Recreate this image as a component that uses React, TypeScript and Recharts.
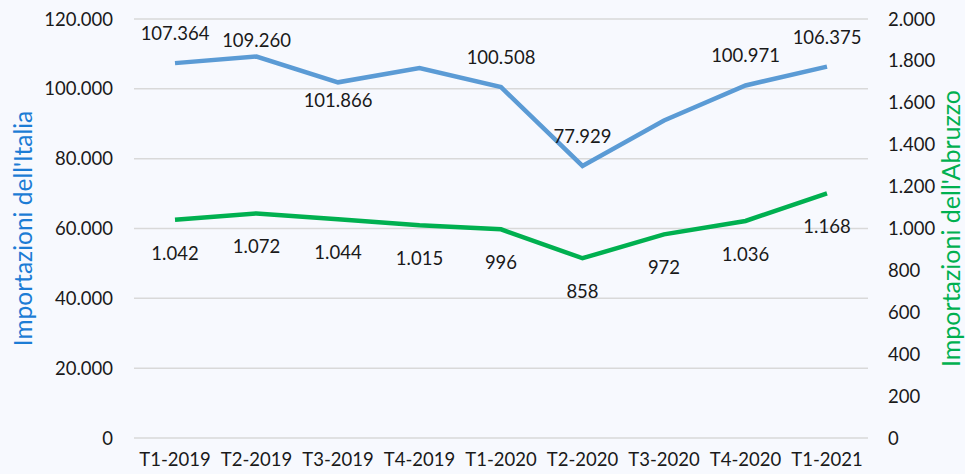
import { LineChart, Line, XAxis, YAxis, CartesianGrid, LabelList } from 'recharts';

const quarters = ['T1-2019', 'T2-2019', 'T3-2019', 'T4-2019', 'T1-2020', 'T2-2020', 'T3-2020', 'T4-2020', 'T1-2021'];
const italia = [107364, 109260, 101866, 105950, 100508, 77929, 90950, 100971, 106375];
const abruzzo = [1042, 1072, 1044, 1015, 996, 858, 972, 1036, 1168];
const italiaTicks = [0, 20000, 40000, 60000, 80000, 100000, 120000];
const abruzzoTicks = [0, 200, 400, 600, 800, 1000, 1200, 1400, 1600, 1800, 2000];

const data = quarters.map((q, i) => ({ quarter: q, italia: italia[i], abruzzo: abruzzo[i] }));

const FONT = 'Lato, "Open Sans", sans-serif';
const BLUE = '#5B9BD5';
const GREEN = '#00B050';

const fmt = (v: number) => String(v).replace(/\B(?=(\d{3})+(?!\d))/g, '.');

const AxisTitle = ({ viewBox, text, color, cx, size }: any) => {
  const cy = viewBox.y + viewBox.height / 2;
  return (
    <text x={cx} y={cy} transform={`rotate(-90, ${cx}, ${cy})`} textAnchor="middle" dominantBaseline="central" fill={color} fontSize={size} fontFamily={FONT}>
      {text}
    </text>
  );
};

// Excel placed the Italia labels mostly above, a couple moved or hidden
const ItaliaLabel = ({ x, y, value, index }: any) => {
  if (index === 3 || index === 6) return null;
  let dy = -30;
  if (index === 1) dy = -17;
  if (index === 2) dy = 18;
  return (
    <text x={x} y={y + dy} textAnchor="middle" dominantBaseline="central" fill="#1a1a1a" fontSize={18.5} fontFamily={FONT}>
      {fmt(value)}
    </text>
  );
};

const AbruzzoLabel = ({ x, y, value }: any) => (
  <text x={x} y={y + 33} textAnchor="middle" dominantBaseline="central" fill="#1a1a1a" fontSize={18.5} fontFamily={FONT}>
    {fmt(value)}
  </text>
);

const tickStyle = { fill: '#1a1a1a', fontSize: 18.5, fontFamily: FONT };

export default function App() {
  return (
    <div style={{ position: 'absolute', left: 0, top: 0, width: 965, height: 474, background: '#F7F9FE' }}>
      <LineChart width={965} height={474} data={data} margin={{ top: 19, right: 0, bottom: 0, left: 0 }}>
        <CartesianGrid vertical={false} stroke="#D9D9D9" strokeWidth={1.5} yAxisId="left" />
        <XAxis
          dataKey="quarter"
          axisLine={false}
          tickLine={false}
          height={36}
          tickSize={4}
          tickMargin={11}
          tick={tickStyle}
          interval={0}
          padding={{ left: 41, right: 41 }}
        />
        <YAxis
          yAxisId="left"
          orientation="left"
          width={134}
          domain={[0, 120000]}
          ticks={italiaTicks}
          axisLine={false}
          tickLine={false}
          tickSize={6}
          tickMargin={15}
          tick={tickStyle}
          tickFormatter={fmt}
          label={<AxisTitle text="Importazioni dell'Italia" color="#1C7CD5" cx={22} size={24.5} />}
        />
        <YAxis
          yAxisId="right"
          orientation="right"
          width={97}
          domain={[0, 2000]}
          ticks={abruzzoTicks}
          axisLine={false}
          tickLine={false}
          tickSize={6}
          tickMargin={14}
          tick={tickStyle}
          tickFormatter={fmt}
          label={<AxisTitle text="Importazioni dell'Abruzzo" color={GREEN} cx={950} size={25} />}
        />
        <Line yAxisId="left" dataKey="italia" stroke={BLUE} strokeWidth={4.5} dot={false} isAnimationActive={false}>
          <LabelList dataKey="italia" content={<ItaliaLabel />} />
        </Line>
        <Line yAxisId="right" dataKey="abruzzo" stroke={GREEN} strokeWidth={4.5} dot={false} isAnimationActive={false}>
          <LabelList dataKey="abruzzo" content={<AbruzzoLabel />} />
        </Line>
      </LineChart>
    </div>
  );
}
